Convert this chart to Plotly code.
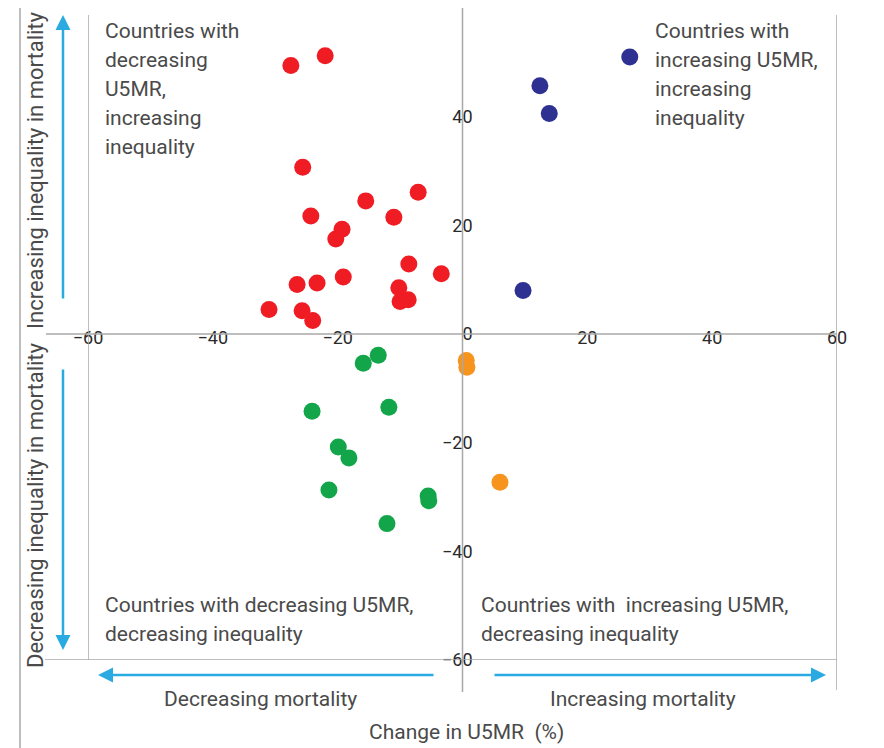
import plotly.graph_objects as go

# Change in U5MR (%) vs change in inequality, by quadrant group
red_x = [-27.5, -22.0, -25.6, -24.3, -15.5, -7.1, -11.0, -19.3, -20.3, -19.1,
         -23.3, -26.5, -8.6, -3.4, -10.2, -10.0, -8.7, -31.0, -25.7, -24.0]
red_y = [49.4, 51.2, 30.7, 21.7, 24.5, 26.1, 21.5, 19.3, 17.5, 10.5,
         9.4, 9.1, 12.9, 11.1, 8.5, 6.0, 6.3, 4.5, 4.3, 2.5]

blue_x = [26.8, 12.4, 13.9, 9.7]
blue_y = [51.0, 45.7, 40.6, 8.0]

green_x = [-13.5, -15.9, -24.1, -11.8, -19.9, -18.2, -21.4, -5.5, -5.4, -12.1]
green_y = [-3.9, -5.4, -14.2, -13.5, -20.8, -22.8, -28.7, -29.8, -30.7, -34.9]

orange_x = [0.6, 0.7, 6.0]
orange_y = [-4.9, -6.1, -27.3]

x_ticks = [-60, -40, -20, 20, 40, 60]
y_ticks = [-60, -40, -20, 0, 20, 40, 60]

FONT = "Roboto, Liberation Sans, sans-serif"
TXT = "#4a4a4a"
LINE = "#a8a8a8"
ARROW = "#29abe2"
H = 652  # plot height in px, used to turn page px into paper units


def py(page_y):
    return (660 - page_y) / H


def px(page_x):
    return (page_x - 88) / 749


fig = go.Figure()
for xs, ys, col in [(red_x, red_y, "#f01c24"), (blue_x, blue_y, "#2e3192"),
                    (green_x, green_y, "#12a54a"), (orange_x, orange_y, "#f7941d")]:
    fig.add_trace(go.Scatter(x=xs, y=ys, mode="markers",
                             marker=dict(size=17, color=col), showlegend=False))

# frame and axis lines
shapes = [
    dict(type="line", xref="paper", yref="y", x0=px(46), x1=1.0, y0=0, y1=0),
    dict(type="line", xref="x", yref="paper", x0=0, x1=0, y0=py(692), y1=1.01),
    dict(type="line", xref="x", yref="paper", x0=-60, x1=-60, y0=0, y1=py(15)),
    dict(type="line", xref="x", yref="paper", x0=60, x1=60, y0=py(690), y1=py(15)),
    dict(type="line", xref="paper", yref="y", x0=px(45), x1=1.0, y0=-60, y1=-60),
    dict(type="line", xref="paper", yref="paper", x0=px(20), x1=px(20), y0=py(748), y1=py(8)),
    dict(type="line", xref="paper", yref="paper", x0=px(877), x1=px(877), y0=py(748), y1=py(8)),
]
for s in shapes:
    s["line"] = dict(color=LINE, width=1.5)
    fig.add_shape(**s)

ann = []
# direction arrows
for x, y, ax, ay in [(px(63), py(15), 0, 285), (px(63), py(650), 0, -282),
                     (px(98), py(675), 337, 0), (px(826), py(675), -333, 0)]:
    ann.append(dict(x=x, y=y, xref="paper", yref="paper", ax=ax, ay=ay,
                    axref="pixel", ayref="pixel", showarrow=True, text="",
                    arrowhead=2, arrowsize=1.2, arrowwidth=2.5, arrowcolor=ARROW))

# axis descriptions
for text, x, y, ang in [("Increasing inequality in mortality", 35, 170, -90),
                        ("Decreasing inequality in mortality", 35, 505, -90),
                        ("Decreasing mortality", 260, 699, 0),
                        ("Increasing mortality", 643, 699, 0),
                        ("Change in U5MR  (%)", 467, 732, 0)]:
    ann.append(dict(x=px(x), y=py(y), xref="paper", yref="paper", text=text, textangle=ang,
                    xanchor="center", yanchor="middle", showarrow=False,
                    font=dict(size=22 if ang else 21, color=TXT, family=FONT)))

# quadrant labels, one annotation per line
quadrants = [
    (103, 31, ["Countries with", "decreasing", "U5MR,", "increasing", "inequality"]),
    (653, 31, ["Countries with", "increasing U5MR,", "increasing", "inequality"]),
    (103, 605, ["Countries with decreasing U5MR,", "decreasing inequality"]),
    (479, 605, ["Countries with  increasing U5MR,", "decreasing inequality"]),
]
for x, y, lines in quadrants:
    for i, line in enumerate(lines):
        ann.append(dict(x=px(x), y=py(y + i * 29), xref="paper", yref="paper",
                        text=line, showarrow=False, xanchor="left", yanchor="middle",
                        font=dict(size=21, color=TXT, family=FONT)))

# page body has an 8px margin, so the figure is 8px smaller than the window
fig.update_layout(
    width=876, height=740,
    margin=dict(l=80, r=47, t=0, b=88),
    paper_bgcolor="white", plot_bgcolor="white",
    annotations=ann,
    xaxis=dict(range=[-60, 60], tickvals=x_ticks, showgrid=False, zeroline=False,
               showline=False, anchor="free", position=0.5, ticklabelstandoff=-9,
               tickfont=dict(size=18, color="#2a2a2a", family=FONT)),
    yaxis=dict(range=[-60, 60], tickvals=y_ticks, showgrid=False, zeroline=False,
               showline=False, anchor="free", position=0.5, ticklabelstandoff=-10,
               tickfont=dict(size=18, color="#2a2a2a", family=FONT)),
)

fig.write_html("out.html")
